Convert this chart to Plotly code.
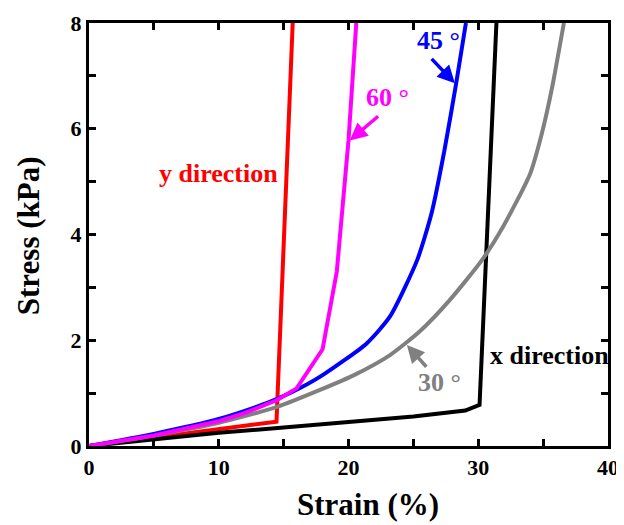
import plotly.graph_objects as go

# y direction (red)
y_dir_x = [0, 5, 10, 14.45, 15.7]
y_dir_y = [0, 0.16, 0.33, 0.46, 8]
# x direction (black)
x_dir_x = [0, 5, 10, 15, 20, 25, 29.0, 30.1, 31.4]
x_dir_y = [0, 0.13, 0.25, 0.35, 0.45, 0.56, 0.67, 0.78, 8]
# 60 degrees (magenta)
d60_x = [0, 5, 10, 12, 14.5, 16.0, 18.0, 19.1, 20.0, 20.6]
d60_y = [0, 0.2, 0.47, 0.62, 0.87, 1.09, 1.83, 3.3, 5.78, 8]
# 45 degrees (blue)
d45_x = [0, 5, 10, 12.9, 14.5, 16.3, 18.0, 21.4, 23.2, 25.3, 26.4, 27.4, 28.3, 29.05]
d45_y = [0, 0.23, 0.51, 0.74, 0.89, 1.1, 1.34, 1.94, 2.45, 3.52, 4.4, 5.6, 6.86, 8]
# 30 degrees (gray)
d30_x = [0, 5, 10, 14.5, 17.8, 20.5, 23.2, 25.5, 27.8, 30.3, 31.9, 34.0, 34.9, 35.7, 36.6]
d30_y = [0, 0.2, 0.44, 0.74, 1.06, 1.35, 1.72, 2.17, 2.76, 3.52, 4.14, 5.15, 5.91, 6.79, 8]

series = [
    (y_dir_x, y_dir_y, "#ff0000", "linear"),
    (x_dir_x, x_dir_y, "#000000", "linear"),
    (d30_x, d30_y, "#808080", "spline"),
    (d45_x, d45_y, "#0000ff", "spline"),
    (d60_x, d60_y, "#ff00ff", "linear"),
]

FONT = "Times New Roman, Liberation Serif, serif"

fig = go.Figure()
for xs, ys, c, shp in series:
    fig.add_trace(go.Scatter(x=xs, y=ys, mode="lines",
                             line=dict(color=c, width=4, shape=shp, smoothing=0.6),
                             showlegend=False))

axis_common = dict(
    showline=True, linecolor="black", linewidth=3, mirror="ticks",
    ticks="inside", ticklen=7, tickwidth=2.5, tickcolor="black",
    showgrid=False, zeroline=False, automargin=False,
    tickfont=dict(family=FONT, size=22, color="black", weight="bold"),
)
fig.update_xaxes(range=[0, 40], dtick=10, tick0=0,
                 minor=dict(dtick=5, ticks="inside", ticklen=7, tickwidth=2.5, tickcolor="black"),
                 **axis_common)
fig.update_yaxes(range=[0, 8], dtick=2, tick0=0,
                 minor=dict(dtick=1, ticks="inside", ticklen=7, tickwidth=2.5, tickcolor="black"),
                 **axis_common)

def txt(x, y, s, color, size=26):
    fig.add_annotation(x=x, y=y, text=s, showarrow=False, xref="x", yref="y",
                       font=dict(family=FONT, size=size, color=color, weight="bold"))

def arrow(x0, y0, x1, y1, color):
    fig.add_annotation(x=x1, y=y1, ax=x0, ay=y0, xref="x", yref="y", axref="x", ayref="y",
                       text="", showarrow=True, arrowhead=2, arrowsize=1.0,
                       arrowwidth=3.5, arrowcolor=color)

txt(9.95, 5.16, "y direction", "#ff0000")
txt(35.5, 1.72, "x direction", "#000000")
txt(23.0, 6.6, "60 °", "#ff00ff")
txt(26.9, 7.67, "45 °", "#0000ff")
txt(27.0, 1.21, "30 °", "#808080")
arrow(22.4, 6.26, 20.1, 5.78, "#ff00ff")
arrow(26.3, 7.35, 28.2, 6.86, "#0000ff")
arrow(26.1, 1.47, 24.5, 1.91, "#808080")

fig.add_annotation(x=0.537, y=-0.139, xref="paper", yref="paper", text="Strain (%)",
                   showarrow=False, xanchor="center", yanchor="middle",
                   font=dict(family=FONT, size=31, color="black", weight="bold"))
fig.add_annotation(x=-0.1175, y=0.496, xref="paper", yref="paper", text="Stress (kPa)",
                   showarrow=False, xanchor="center", yanchor="middle", textangle=-90,
                   font=dict(family=FONT, size=31, color="black", weight="bold"))

# page body has an 8px margin, so the figure is offset by (8, 8)
fig.update_layout(width=616, height=517,
                  margin=dict(l=81, r=16, t=15, b=79),
                  paper_bgcolor="white", plot_bgcolor="white")

fig.write_html("out.html")
